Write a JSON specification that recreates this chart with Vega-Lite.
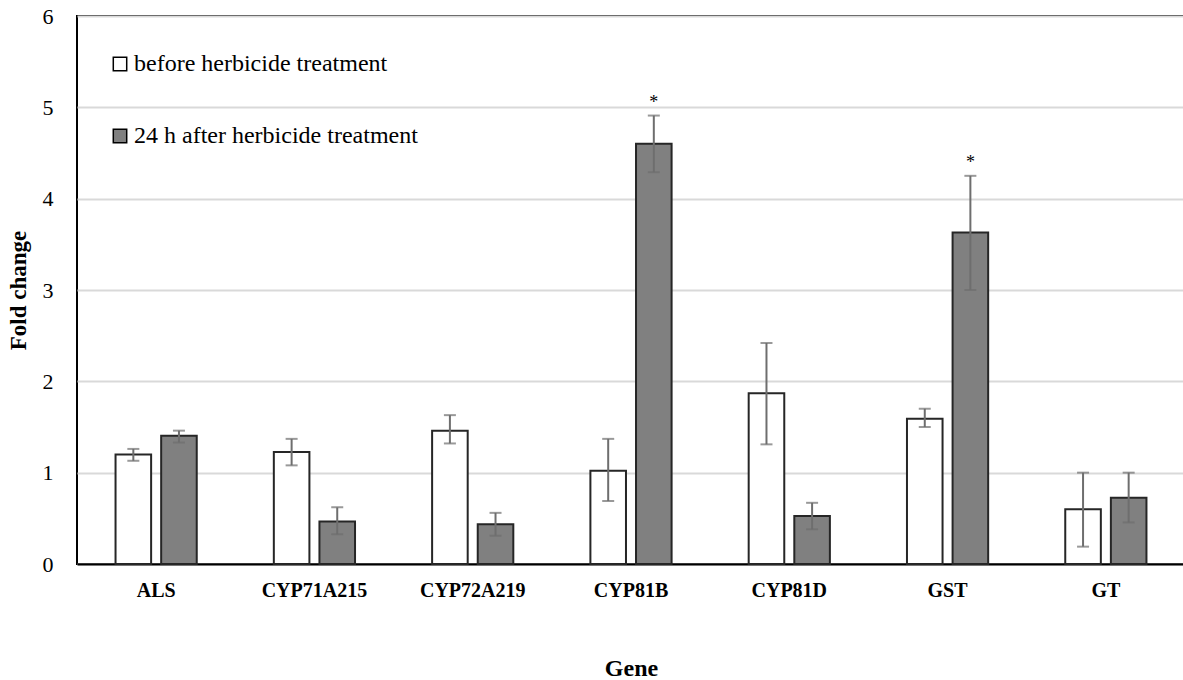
{
  "$schema": "https://vega.github.io/schema/vega-lite/v6.json",
  "width": 1108,
  "height": 548,
  "autosize": "none",
  "padding": {"left": 77, "top": 16, "right": 0, "bottom": 116},
  "background": "white",
  "config": {
    "view": {"stroke": "#000000", "strokeWidth": 2},
    "font": "Liberation Serif"
  },
  "data": {
    "values": [
      {"gene": "ALS", "group": "before herbicide treatment", "value": 1.20, "lo": 1.13, "hi": 1.26, "sig": ""},
      {"gene": "ALS", "group": "24 h after herbicide treatment", "value": 1.405, "lo": 1.33, "hi": 1.46, "sig": ""},
      {"gene": "CYP71A215", "group": "before herbicide treatment", "value": 1.225, "lo": 1.08, "hi": 1.37, "sig": ""},
      {"gene": "CYP71A215", "group": "24 h after herbicide treatment", "value": 0.465, "lo": 0.325, "hi": 0.62, "sig": ""},
      {"gene": "CYP72A219", "group": "before herbicide treatment", "value": 1.46, "lo": 1.32, "hi": 1.63, "sig": ""},
      {"gene": "CYP72A219", "group": "24 h after herbicide treatment", "value": 0.435, "lo": 0.31, "hi": 0.56, "sig": ""},
      {"gene": "CYP81B", "group": "before herbicide treatment", "value": 1.02, "lo": 0.69, "hi": 1.37, "sig": ""},
      {"gene": "CYP81B", "group": "24 h after herbicide treatment", "value": 4.60, "lo": 4.29, "hi": 4.91, "sig": "*"},
      {"gene": "CYP81D", "group": "before herbicide treatment", "value": 1.87, "lo": 1.31, "hi": 2.42, "sig": ""},
      {"gene": "CYP81D", "group": "24 h after herbicide treatment", "value": 0.525, "lo": 0.38, "hi": 0.67, "sig": ""},
      {"gene": "GST", "group": "before herbicide treatment", "value": 1.59, "lo": 1.50, "hi": 1.70, "sig": ""},
      {"gene": "GST", "group": "24 h after herbicide treatment", "value": 3.63, "lo": 3.00, "hi": 4.25, "sig": "*"},
      {"gene": "GT", "group": "before herbicide treatment", "value": 0.60, "lo": 0.19, "hi": 1.00, "sig": ""},
      {"gene": "GT", "group": "24 h after herbicide treatment", "value": 0.725, "lo": 0.455, "hi": 1.00, "sig": ""}
    ]
  },
  "encoding": {
    "x": {
      "field": "gene",
      "type": "nominal",
      "sort": null,
      "scale": {"paddingInner": 0.487, "paddingOuter": 0.2435},
      "axis": {
        "title": "Gene",
        "titleFont": "Liberation Serif",
        "titleFontSize": 24,
        "titleFontWeight": "bold",
        "titleColor": "#000000",
        "titlePadding": 56,
        "labelAngle": 0,
        "labelFont": "Liberation Serif",
        "labelFontSize": 20,
        "labelFontWeight": "bold",
        "labelColor": "#000000",
        "labelPadding": 16,
        "labelLimit": 0,
        "ticks": false,
        "domainColor": "#000000",
        "domainWidth": 2
      }
    },
    "xOffset": {
      "field": "group",
      "type": "nominal",
      "sort": ["before herbicide treatment", "24 h after herbicide treatment"],
      "scale": {"paddingInner": 0.22, "paddingOuter": 0}
    }
  },
  "layer": [
    {
      "mark": {"type": "bar", "stroke": "#262626", "strokeWidth": 2},
      "encoding": {
        "y": {
          "field": "value",
          "type": "quantitative",
          "scale": {"domain": [0, 6], "nice": false},
          "axis": {
            "title": "Fold change",
            "titleFont": "Liberation Serif",
            "titleFontSize": 23,
            "titleFontWeight": "bold",
            "titleColor": "#000000",
            "titlePadding": 12,
            "values": [0, 1, 2, 3, 4, 5, 6],
            "format": "d",
            "labelFont": "Liberation Serif",
            "labelFontSize": 22,
            "labelColor": "#000000",
            "labelPadding": 24,
            "ticks": false,
            "domain": false,
            "gridColor": "#d9d9d9",
            "gridWidth": 2
          }
        },
        "fill": {
          "field": "group",
          "type": "nominal",
          "sort": ["before herbicide treatment", "24 h after herbicide treatment"],
          "scale": {"range": ["#ffffff", "#808080"]},
          "legend": {
            "title": null,
            "orient": "none",
            "legendX": 31,
            "legendY": 36,
            "symbolType": "square",
            "symbolSize": 180,
            "symbolStrokeColor": "#000000",
            "symbolStrokeWidth": 1.5,
            "labelFont": "Liberation Serif",
            "labelFontSize": 24,
            "labelColor": "#000000",
            "labelOffset": 2,
            "labelLimit": 0,
            "rowPadding": 48
          }
        }
      }
    },
    {
      "mark": {"type": "rule", "color": "#6e6e6e", "strokeWidth": 2},
      "encoding": {
        "y": {"field": "lo", "type": "quantitative"},
        "y2": {"field": "hi"}
      }
    },
    {
      "mark": {"type": "tick", "color": "#6e6e6e", "thickness": 2, "size": 12},
      "encoding": {
        "y": {"field": "lo", "type": "quantitative"}
      }
    },
    {
      "mark": {"type": "tick", "color": "#6e6e6e", "thickness": 2, "size": 12},
      "encoding": {
        "y": {"field": "hi", "type": "quantitative"}
      }
    },
    {
      "mark": {"type": "text", "font": "Liberation Serif", "fontSize": 18, "color": "#000000", "dy": -4, "baseline": "bottom"},
      "encoding": {
        "y": {"field": "hi", "type": "quantitative"},
        "text": {"field": "sig"}
      }
    }
  ]
}
